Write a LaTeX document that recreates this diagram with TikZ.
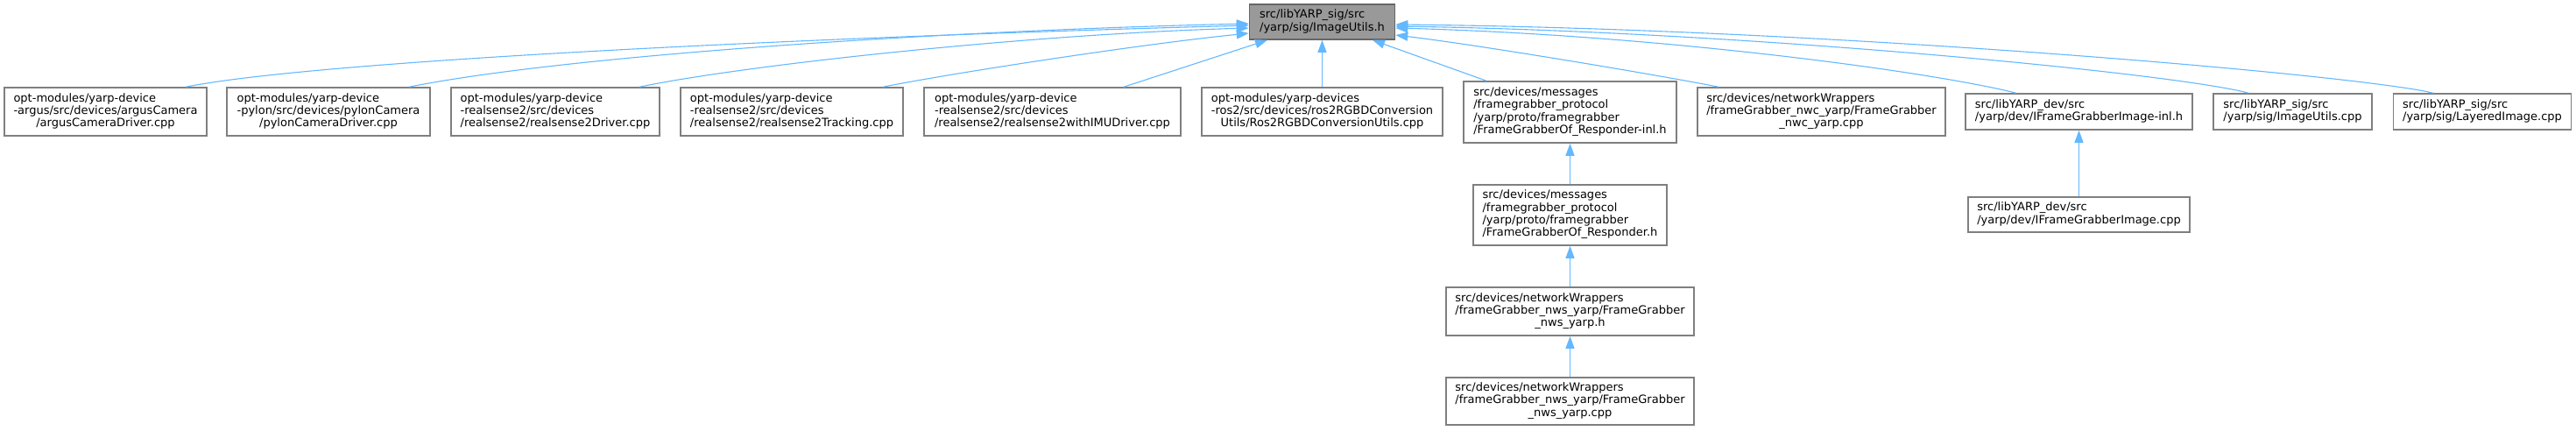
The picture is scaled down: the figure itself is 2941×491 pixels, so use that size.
\documentclass[tikz,border=0pt]{standalone}
\usepackage{fontspec}
\setmainfont{DejaVu Sans}
\usetikzlibrary{arrows.meta}
\definecolor{edgeblue}{HTML}{63B8FF}
\definecolor{boxborder}{HTML}{7F7F7F}
\definecolor{rootfill}{HTML}{999999}
\newcommand{\dxlab}[2]{\begin{tabular}{@{}l@{}}#1\\\multicolumn{1}{@{}c@{}}{#2}\end{tabular}}
\begin{document}
\begin{tikzpicture}[x=1pt,y=-1pt,
  every node/.style={font=\fontsize{13}{14.3}\selectfont},
  filebox/.style={draw=boxborder, line width=1.5pt, fill=white, inner sep=0pt, minimum height=55pt},
  rootbox/.style={filebox, draw=boxborder!80!black, fill=rootfill, minimum height=40pt},
  edge/.style={draw=edgeblue, line width=1.1pt, -{Triangle[length=14pt,width=10pt]}}]
\useasboundingbox (0,0) rectangle (2941,491);

\node[rootbox, minimum width=166pt] (root) at (1509.5,25) {\dxlab{src/libYARP\_sig/src}{/yarp/sig/ImageUtils.h}};

\node[filebox, minimum width=231pt] (argus) at (120.5,127.5) {\dxlab{opt-modules/yarp-device\\-argus/src/devices/argusCamera}{/argusCameraDriver.cpp}};
\node[filebox, minimum width=232pt] (pylon) at (375,127.5) {\dxlab{opt-modules/yarp-device\\-pylon/src/devices/pylonCamera}{/pylonCameraDriver.cpp}};
\node[filebox, minimum width=238pt] (rsdrv) at (634,127.5) {\dxlab{opt-modules/yarp-device\\-realsense2/src/devices}{/realsense2/realsense2Driver.cpp}};
\node[filebox, minimum width=254pt] (rstrk) at (904,127.5) {\dxlab{opt-modules/yarp-device\\-realsense2/src/devices}{/realsense2/realsense2Tracking.cpp}};
\node[filebox, minimum width=293pt] (rsimu) at (1201.5,127.5) {\dxlab{opt-modules/yarp-device\\-realsense2/src/devices}{/realsense2/realsense2withIMUDriver.cpp}};
\node[filebox, minimum width=275pt] (ros2) at (1509.5,127.5) {\dxlab{opt-modules/yarp-devices\\-ros2/src/devices/ros2RGBDConversion}{Utils/Ros2RGBDConversionUtils.cpp}};
\node[filebox, minimum width=243pt, minimum height=70pt] (respinl) at (1792.5,128) {\dxlab{src/devices/messages\\/framegrabber\_protocol\\/yarp/proto/framegrabber}{/FrameGrabberOf\_Responder-inl.h}};
\node[filebox, minimum width=283pt] (nwc) at (2079.5,127.5) {\dxlab{src/devices/networkWrappers\\/frameGrabber\_nwc\_yarp/FrameGrabber}{\_nwc\_yarp.cpp}};
\node[filebox, minimum width=259pt, minimum height=41pt] (ifginl) at (2373.5,127.5) {\dxlab{src/libYARP\_dev/src}{/yarp/dev/IFrameGrabberImage-inl.h}};
\node[filebox, minimum width=181pt, minimum height=41pt] (iucpp) at (2617.5,127.5) {\dxlab{src/libYARP\_sig/src}{/yarp/sig/ImageUtils.cpp}};
\node[filebox, minimum width=203pt, minimum height=41pt] (layered) at (2834,127.5) {\dxlab{src/libYARP\_sig/src}{/yarp/sig/LayeredImage.cpp}};

\node[filebox, minimum width=221pt, minimum height=69pt] (resph) at (1792.5,245.5) {\dxlab{src/devices/messages\\/framegrabber\_protocol\\/yarp/proto/framegrabber}{/FrameGrabberOf\_Responder.h}};
\node[filebox, minimum width=283pt] (nwsh) at (1792.5,355.5) {\dxlab{src/devices/networkWrappers\\/frameGrabber\_nws\_yarp/FrameGrabber}{\_nws\_yarp.h}};
\node[filebox, minimum width=283pt, minimum height=54pt] (nwscpp) at (1792.5,458) {\dxlab{src/devices/networkWrappers\\/frameGrabber\_nws\_yarp/FrameGrabber}{\_nws\_yarp.cpp}};
\node[filebox, minimum width=253pt, minimum height=40pt] (ifgcpp) at (2373.5,245) {\dxlab{src/libYARP\_dev/src}{/yarp/dev/IFrameGrabberImage.cpp}};

% edges into root, left side
\draw[edge] ([xshift=91.5pt]argus.north) .. controls +(150,-30) and +(-500,13.5) .. ([yshift=-4pt]root.west);
\draw[edge] ([xshift=92pt]pylon.north) .. controls +(180,-36) and +(-350,8) .. ([yshift=-2pt]root.west);
\draw[edge] ([xshift=96pt]rsdrv.north) .. controls +(120,-25) and +(-250,7) .. ([yshift=-7pt]root.west);
\draw[edge] ([xshift=104pt]rstrk.north) .. controls +(80,-16) and +(-120,12) .. ([yshift=-13pt]root.west);
% bottom
\draw[edge] ([xshift=81.5pt]rsimu.north) -- ([xshift=-62.5pt]root.south);
\draw[edge] (ros2.north) -- (root.south);
\draw[edge] ([xshift=-95.5pt]respinl.north) -- ([xshift=57.5pt]root.south);
% right side
\draw[edge] ([xshift=-117.5pt]nwc.north) .. controls +(-60,-12) and +(100,12) .. ([yshift=-15pt]root.east);
\draw[edge] ([xshift=-71.5pt]ifginl.north) .. controls +(-100,-25) and +(300,8) .. ([yshift=-7pt]root.east);
\draw[edge] ([xshift=-50.5pt]iucpp.north) .. controls +(-80,-22) and +(400,6) .. ([yshift=-5pt]root.east);
\draw[edge] ([xshift=-56pt]layered.north) .. controls +(-80,-20) and +(500,5) .. ([yshift=-3pt]root.east);

% vertical chains
\draw[edge] (resph.north) -- (respinl.south);
\draw[edge] (nwsh.north) -- (resph.south);
\draw[edge] (nwscpp.north) -- (nwsh.south);
\draw[edge] (ifgcpp.north) -- (ifginl.south);
\end{tikzpicture}
\end{document}
